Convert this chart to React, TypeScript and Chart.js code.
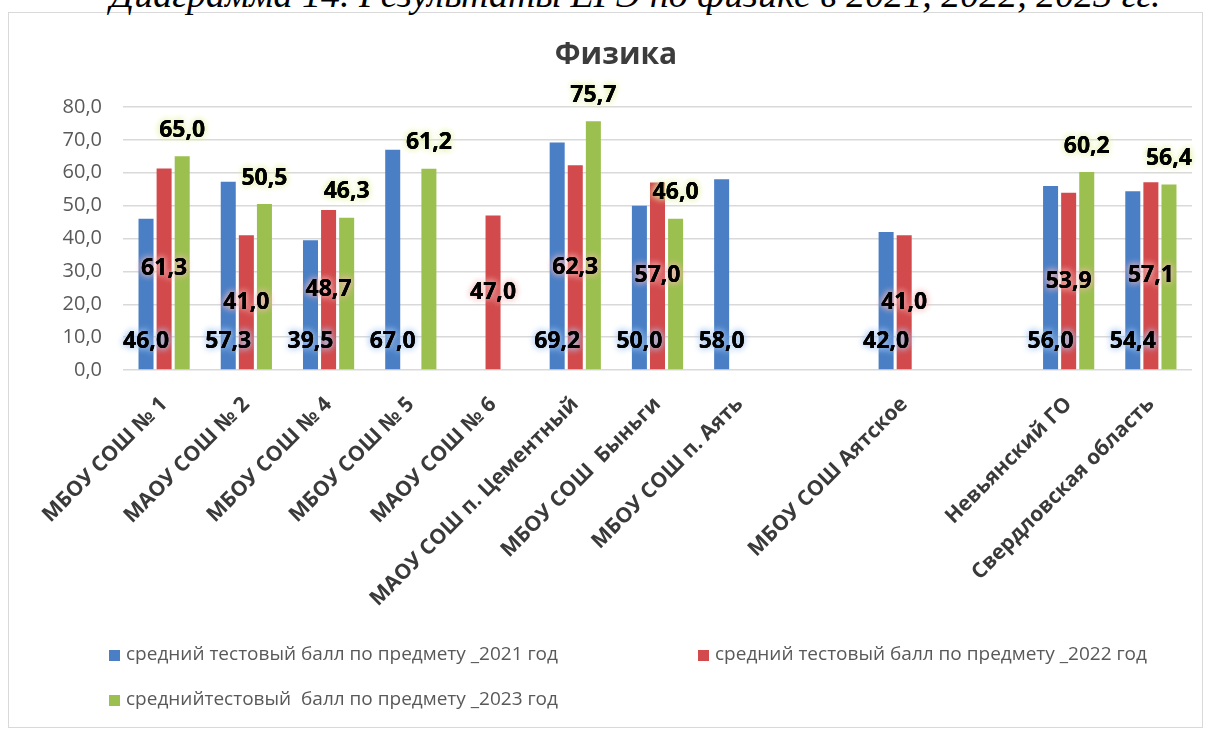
import React, { useEffect, useRef } from "react";
import { Chart, registerables } from "chart.js";

Chart.register(...registerables);

const chartTitle = "Физика";
const caption = "Диаграмма 14. Результаты ЕГЭ по физике в 2021, 2022, 2023 гг.";

const categories = [
  "МБОУ СОШ № 1",
  "МАОУ СОШ № 2",
  "МБОУ СОШ № 4",
  "МБОУ СОШ № 5",
  "МАОУ СОШ № 6",
  "МАОУ СОШ п. Цементный",
  "МБОУ СОШ  Быньги",
  "МБОУ СОШ п. Аять",
  "",
  "МБОУ СОШ Аятское",
  "",
  "Невьянский ГО",
  "Свердловская область",
];

const scores2021 = [46.0, 57.3, 39.5, 67.0, null, 69.2, 50.0, 58.0, null, 42.0, null, 56.0, 54.4];
const scores2022 = [61.3, 41.0, 48.7, null, 47.0, 62.3, 57.0, null, null, 41.0, null, 53.9, 57.1];
const scores2023 = [65.0, 50.5, 46.3, 61.2, null, 75.7, 46.0, null, null, null, null, 60.2, 56.4];

const seriesLabels = [
  "средний тестовый балл по предмету _2021 год",
  "средний тестовый балл по предмету _2022 год",
  "среднийтестовый  балл по предмету _2023 год",
];

const yMin = 0;
const yMax = 80;
const yStep = 10;

const colors = ["#4A7FC6", "#D24A4C", "#9BC04F"];
const glows = ["rgba(170,200,240,1)", "rgba(245,185,185,1)", "rgba(225,240,170,1)"];

const fmt = (v: number) => Number(v).toFixed(1).replace(".", ",");

const decorPlugin = {
  id: "decor",
  afterDatasetsDraw(chart: any) {
    const ctx = chart.ctx as CanvasRenderingContext2D;
    ctx.save();
    ctx.font = "bold 23px 'Open Sans'";
    ctx.textAlign = "center";
    ctx.textBaseline = "middle";
    chart.data.datasets.forEach((ds: any, di: number) => {
      const meta = chart.getDatasetMeta(di);
      meta.data.forEach((el: any, i: number) => {
        const v = ds.data[i];
        if (v == null) return;
        const p = el.getProps(["x", "y", "base"], true);
        let ty: number;
        if (di === 0) ty = p.base - 28;
        else if (di === 1) ty = (p.y + p.base) / 2;
        else ty = p.y - 26;
        const t = fmt(v);
        ctx.shadowColor = glows[di];
        ctx.shadowBlur = 7;
        ctx.fillStyle = "#000";
        ctx.fillText(t, p.x, ty);
        ctx.fillText(t, p.x, ty);
        ctx.shadowBlur = 0;
        ctx.fillText(t, p.x, ty);
      });
    });
    ctx.restore();
  },
  afterDraw(chart: any) {
    const ctx = chart.ctx as CanvasRenderingContext2D;
    ctx.save();
    // title
    ctx.font = "bold 30px 'Open Sans'";
    ctx.fillStyle = "#3c3c3c";
    ctx.textAlign = "center";
    ctx.textBaseline = "middle";
    ctx.fillText(chartTitle, 616, 55);
    // legend
    const pos = [
      [109, 655],
      [698, 655],
      [109, 700],
    ];
    ctx.font = "19px 'Open Sans'";
    ctx.textAlign = "left";
    chart.data.datasets.forEach((ds: any, di: number) => {
      const [lx, ly] = pos[di];
      ctx.fillStyle = colors[di];
      ctx.fillRect(lx, ly - 5, 11, 11);
      ctx.fillStyle = "#595959";
      ctx.fillText(ds.label, lx + 17, ly);
    });
    ctx.restore();
  },
};

export default function App() {
  const ref = useRef<HTMLCanvasElement | null>(null);

  useEffect(() => {
    if (!ref.current) return;
    const chart = new Chart(ref.current, {
      type: "bar",
      data: {
        labels: categories,
        datasets: [
          { label: seriesLabels[0], data: scores2021, backgroundColor: colors[0] },
          { label: seriesLabels[1], data: scores2022, backgroundColor: colors[1] },
          { label: seriesLabels[2], data: scores2023, backgroundColor: colors[2] },
        ],
      },
      options: {
        animation: false,
        responsive: false,
        maintainAspectRatio: false,
        datasets: { bar: { categoryPercentage: 0.66, barPercentage: 0.83 } },
        layout: { padding: { top: 107, right: 19, left: 0, bottom: 0 } },
        plugins: {
          legend: { display: false },
          title: { display: false },
          tooltip: { enabled: false },
        },
        scales: {
          x: {
            grid: { display: false },
            border: { display: false },
            afterFit: (s: any) => {
              s.height = 733 - 370;
            },
            ticks: {
              autoSkip: false,
              maxRotation: 45,
              minRotation: 45,
              padding: 14,
              color: "#3a3a3a",
              font: { family: "'Open Sans'", size: 21, weight: "bold" },
            },
          },
          y: {
            min: yMin,
            max: yMax,
            afterFit: (s: any) => {
              s.width = 123;
            },
            grid: { color: "#d9d9d9", lineWidth: 1.5, drawTicks: false },
            border: { display: false },
            ticks: {
              stepSize: yStep,
              padding: 21,
              color: "#595959",
              font: { family: "'Open Sans'", size: 20 },
              callback: (v: any) => fmt(v),
            },
          },
        },
      },
      plugins: [decorPlugin],
    });
    return () => chart.destroy();
  }, []);

  return (
    <div
      style={{
        position: "fixed",
        left: 0,
        top: 0,
        width: 1211,
        height: 733,
        background: "#fff",
        overflow: "hidden",
      }}
    >
      <div
        style={{
          position: "absolute",
          left: 8,
          top: 12,
          width: 1195,
          height: 716,
          border: "1px solid #d9d9d9",
          boxSizing: "border-box",
        }}
      />
      <div
        style={{
          position: "absolute",
          left: 110,
          top: -25,
          whiteSpace: "nowrap",
          fontFamily: "'Liberation Serif', serif",
          fontStyle: "italic",
          fontSize: 38,
          lineHeight: "38px",
          color: "#000",
        }}
      >
        {caption}
      </div>
      <canvas ref={ref} width={1211} height={733} style={{ position: "absolute", left: 0, top: 0 }} />
    </div>
  );
}
